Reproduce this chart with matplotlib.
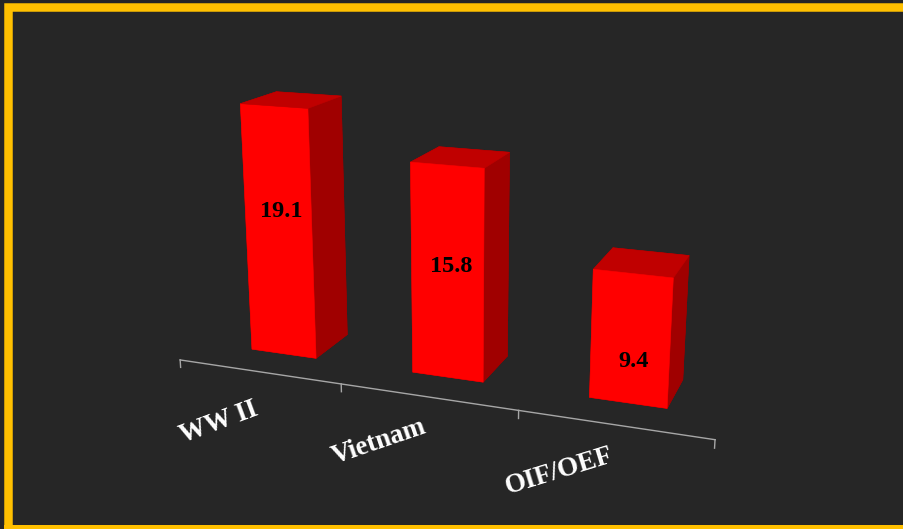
import matplotlib
matplotlib.use("Agg")
import matplotlib.pyplot as plt
import numpy as np
from matplotlib.patches import Rectangle

categories = ["WW II", "Vietnam", "OIF/OEF"]
values = [19.1, 15.8, 9.4]
value_labels = ["19.1", "15.8", "9.4"]

BG = "#262626"
FRONT = "#FF0000"
TOP = "#C00000"
SIDE = "#A00000"
BORDER = "#FFC000"

W, H, DPI = 904, 529, 100
fig = plt.figure(figsize=(W / DPI, H / DPI), dpi=DPI, facecolor=BG)

# square 3D axes centred on the scene
side = 480
cx, cy = 454, 242
ax = fig.add_axes([(cx - side / 2) / W, (H - cy - side / 2) / H, side / W, side / H],
                  projection="3d", facecolor="none")
ax.set_proj_type("persp", focal_length=0.5)
ax.view_init(elev=16, azim=-69.5)

n = len(categories)
xpos = np.arange(n)
bar_w = 0.41
bar_d = 0.41
y0 = 0.3
zmax = 20
ax.set_xlim(-0.5, n - 0.5)
ax.set_ylim(0, 1)
ax.set_zlim(0, zmax)
ax.set_box_aspect((n, 1, zmax * 0.0747), zoom=1.306)
ax.set_axis_off()

face_cols = []
for _ in values:
    face_cols += [SIDE, TOP, FRONT, SIDE, SIDE, SIDE]
bars = ax.bar3d(xpos - bar_w / 2, np.full(n, y0), np.zeros(n), bar_w, bar_d, values,
                color=face_cols, shade=False, edgecolor=face_cols, linewidth=0.4)
bars.set_clip_on(False)

# category axis line with ticks at slot boundaries
axis_col = "#A6A6A6"
axis_y = 0.01
ax.plot([-0.5, n - 0.5], [axis_y, axis_y], [0, 0], color=axis_col, lw=1.0, clip_on=False)
for xt in np.arange(n + 1) - 0.5:
    ax.plot([xt, xt], [axis_y, axis_y], [0, -0.6], color=axis_col, lw=1.0, clip_on=False)

# value labels on the bar fronts
label_frac = [0.59, 0.535, 0.33]
for i, (v, s) in enumerate(zip(values, value_labels)):
    ax.text(xpos[i] + 0.02, y0, v * label_frac[i], s, ha="center", va="center",
            fontsize=17.5, fontweight="bold", family="Liberation Serif", color="black",
            clip_on=False)

# category labels, slanted along a rising direction
label_dx = [-0.14, -0.19, -0.22]
label_z = [-3.2, -2.6, -2.6]
for i, c in enumerate(categories):
    ax.text(xpos[i] + label_dx[i], -0.2, label_z[i], c, zdir=(1, 0, 6.7),
            ha="center", va="center",
            fontsize=19.5, fontweight="bold", family="Liberation Serif", color="white",
            clip_on=False)

# golden frame
fig.patches.append(Rectangle((8 / W, -0.5), 2, 1 - 7 / H + 0.5, transform=fig.transFigure,
                             fill=False, edgecolor=BORDER, linewidth=8.5 * 72 / DPI))
fig.patches.append(Rectangle((4 / W, 0), 1, 4 / H, transform=fig.transFigure,
                             facecolor=BORDER, edgecolor="none"))

fig.savefig("out.png", dpi=DPI, facecolor=BG)
